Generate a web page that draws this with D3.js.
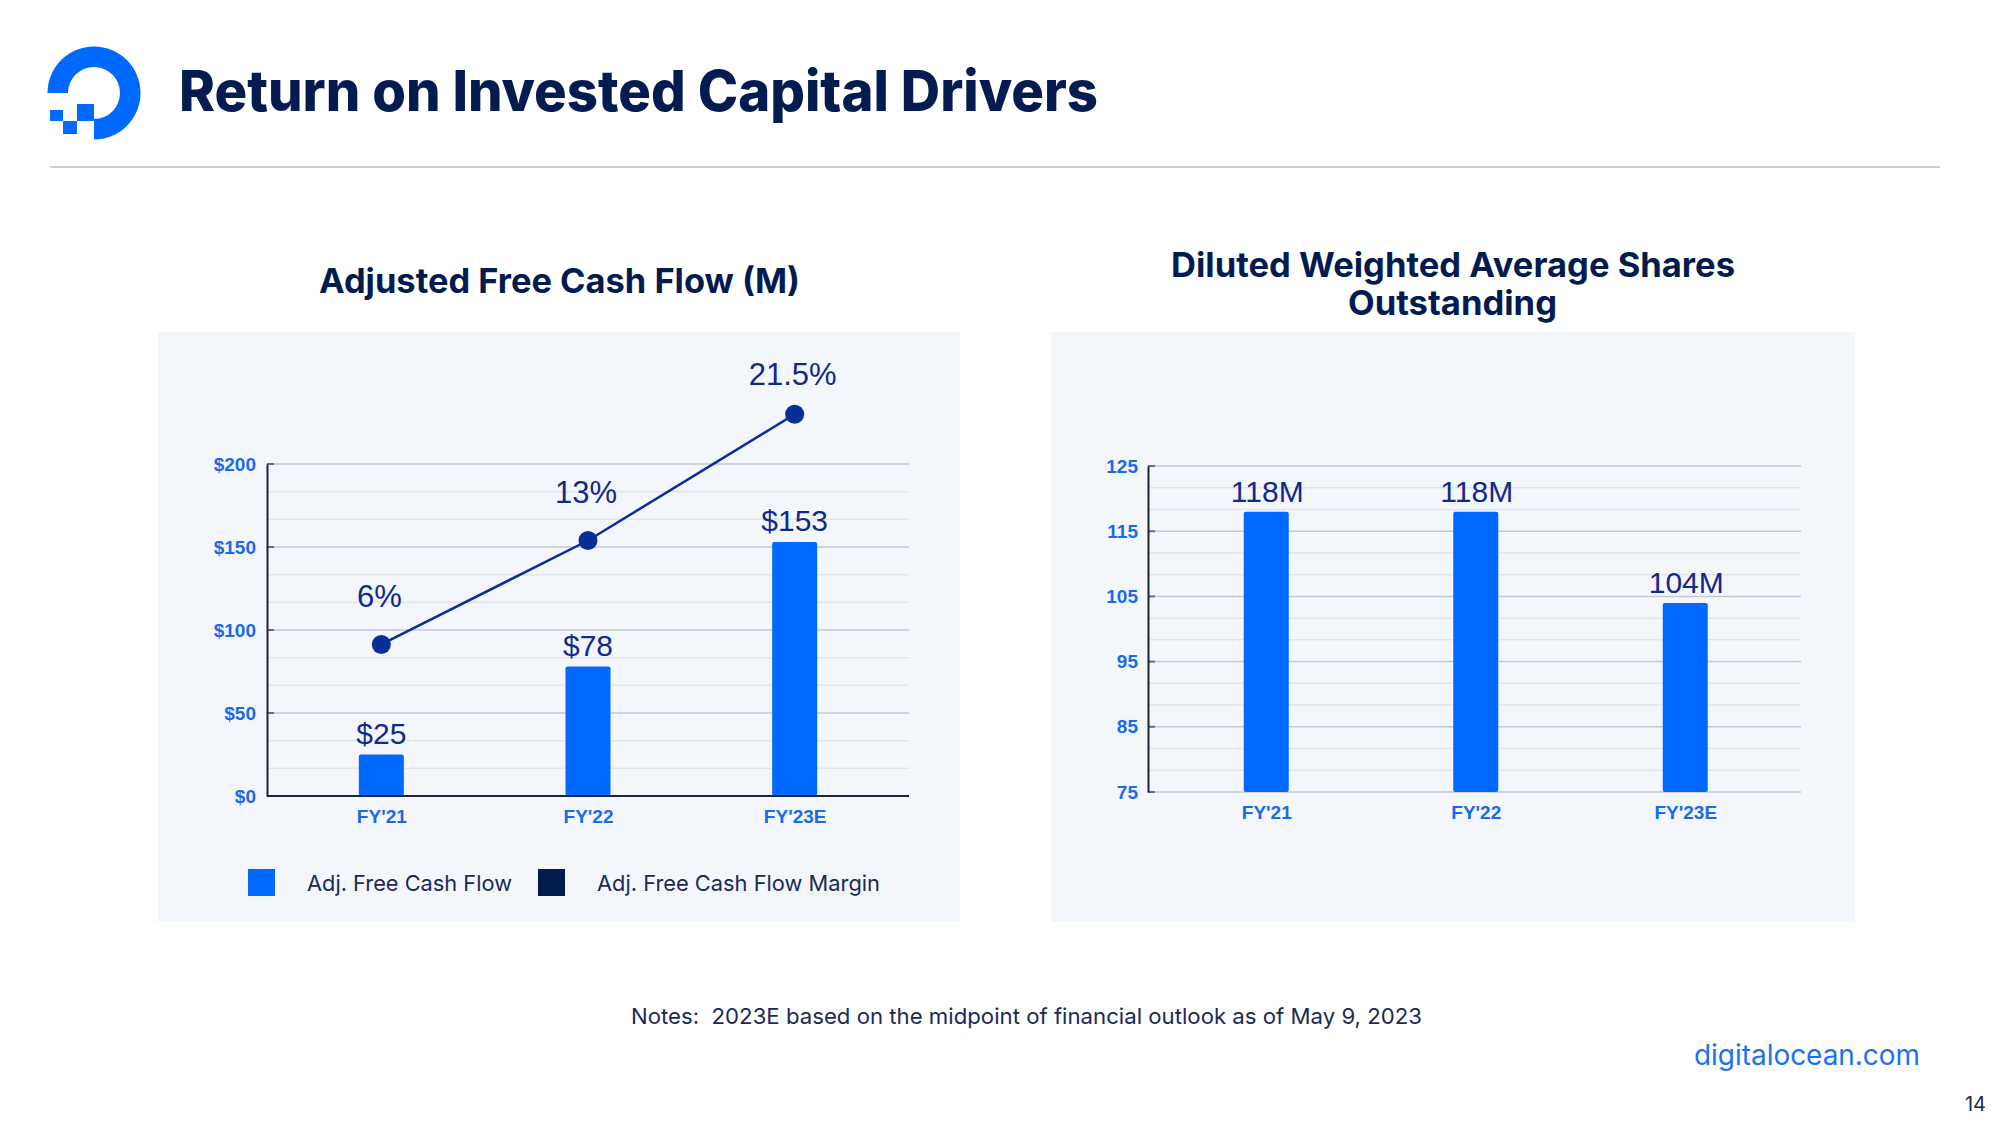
<!DOCTYPE html>
<html>
<head>
<meta charset="utf-8">
<script src="https://cdn.jsdelivr.net/npm/d3@7"></script>
<style>
  html, body { margin: 0; padding: 0; background: #ffffff; }
  svg { display: block; }
</style>
</head>
<body>
<script>
// ---------- DATA ----------
const categories = ["FY'21", "FY'22", "FY'23E"];
const fcfValues = [25, 78, 153];
const fcfLabels = ["$25", "$78", "$153"];
const marginValues = [6, 13, 21.5];
const marginLabels = ["6%", "13%", "21.5%"];
const fcfTicks = [0, 50, 100, 150, 200];
const sharesValues = [118, 118, 104];
const sharesLabels = ["118M", "118M", "104M"];
const sharesTicks = [75, 85, 95, 105, 115, 125];
const legendItems = ["Adj. Free Cash Flow", "Adj. Free Cash Flow Margin"];

// ---------- STYLE ----------
const BLUE = "#0069ff";
const NAVY = "#031b4e";
const LINE = "#0b2d96";
const LABEL = "#12298a";
const TICK = "#1a6ae8";
const GRID_MAJOR = "#c3c9d2";
const GRID_MINOR = "#e1e6ed";
const PANEL = "#f3f7fc";

const W = 2000, H = 1125;
const svg = d3.select("body").append("svg").attr("width", W).attr("height", H);

function fit(sel, width) {
  sel.attr("textLength", width).attr("lengthAdjust", "spacingAndGlyphs");
  return sel;
}

// ---------- HEADER ----------
const logo = svg.append("g").attr("transform", "translate(94,93)");
logo.append("path")
  .attr("d", d3.arc()({innerRadius: 26, outerRadius: 46.5, startAngle: -Math.PI / 2, endAngle: Math.PI}))
  .attr("fill", BLUE);
logo.append("rect").attr("x", -17).attr("y", 11).attr("width", 17).attr("height", 17).attr("fill", BLUE);
logo.append("rect").attr("x", -31).attr("y", 28).attr("width", 14).attr("height", 13).attr("fill", BLUE);
logo.append("rect").attr("x", -44).attr("y", 17).attr("width", 13).attr("height", 11).attr("fill", BLUE);

fit(svg.append("text").attr("x", 179).attr("y", 111)
  .attr("font-family", "Inter, sans-serif").attr("font-weight", 800)
  .attr("font-size", 56).attr("fill", NAVY)
  .text("Return on Invested Capital Drivers"), 919);

svg.append("line").attr("x1", 50).attr("x2", 1940).attr("y1", 167).attr("y2", 167)
  .attr("stroke", "#cccccc").attr("stroke-width", 2);

// ---------- PANELS ----------
svg.append("rect").attr("x", 158).attr("y", 332).attr("width", 802).attr("height", 590).attr("fill", PANEL);
svg.append("rect").attr("x", 1051).attr("y", 332).attr("width", 804).attr("height", 590).attr("fill", PANEL);

// subtitles
fit(svg.append("text").attr("x", 319).attr("y", 293)
  .attr("font-family", "Inter, sans-serif").attr("font-weight", 700)
  .attr("font-size", 34).attr("fill", NAVY).text("Adjusted Free Cash Flow (M)"), 481);
fit(svg.append("text").attr("x", 1171).attr("y", 277)
  .attr("font-family", "Inter, sans-serif").attr("font-weight", 700)
  .attr("font-size", 34).attr("fill", NAVY).text("Diluted Weighted Average Shares"), 564);
fit(svg.append("text").attr("x", 1348).attr("y", 315)
  .attr("font-family", "Inter, sans-serif").attr("font-weight", 700)
  .attr("font-size", 34).attr("fill", NAVY).text("Outstanding"), 209);

// ---------- helper for grid ----------
function drawGrid(g, y, ticks, x0, x1, sub) {
  const step = ticks[1] - ticks[0];
  const minor = [];
  for (let i = 0; i < ticks.length - 1; i++) {
    for (let k = 1; k < sub; k++) minor.push(ticks[i] + step * k / sub);
  }
  g.selectAll(".minor").data(minor).join("line")
    .attr("x1", x0).attr("x2", x1).attr("y1", d => y(d)).attr("y2", d => y(d))
    .attr("stroke", GRID_MINOR).attr("stroke-width", 1.5);
  g.selectAll(".major").data(ticks).join("line")
    .attr("x1", x0).attr("x2", x1).attr("y1", d => y(d)).attr("y2", d => y(d))
    .attr("stroke", GRID_MAJOR).attr("stroke-width", 1.5);
  g.selectAll(".tk").data(ticks).join("line")
    .attr("x1", x0).attr("x2", x0 + 7).attr("y1", d => y(d)).attr("y2", d => y(d))
    .attr("stroke", "#5a6f9a").attr("stroke-width", 2);
}

// ---------- LEFT CHART ----------
const L = {x0: 267, x1: 909, top: 464, bottom: 796};
const xL = d3.scalePoint().domain(categories).range([278, 898]).padding(0.5);
const yL = d3.scaleLinear().domain([0, 200]).range([L.bottom, L.top]);
const yM = d3.scaleLinear().domain([-4.2, 18.15]).range([L.bottom, L.top]);

const gL = svg.append("g");
drawGrid(gL, yL, fcfTicks, L.x0, L.x1, 3);

const axL = gL.append("g").attr("transform", `translate(${L.x0},0)`)
  .call(d3.axisLeft(yL).tickValues(fcfTicks).tickSize(0).tickPadding(11).tickFormat(d => "$" + d));
axL.select(".domain").attr("stroke", "#1b2436").attr("stroke-width", 2);
axL.selectAll("text").attr("font-family", "'Liberation Sans', Arial, sans-serif")
  .attr("font-weight", 700).attr("font-size", 19).attr("fill", TICK);

gL.selectAll(".bar").data(fcfValues).join("rect")
  .attr("x", (d, i) => xL(categories[i]) - 22.5).attr("width", 45)
  .attr("y", d => yL(d)).attr("height", d => yL(0) - yL(d))
  .attr("rx", 2).attr("fill", BLUE);

const axLB = gL.append("g").attr("transform", `translate(0,${L.bottom})`)
  .call(d3.axisBottom(xL).tickSize(0).tickPadding(10));
axLB.select(".domain").attr("d", `M${L.x0},0H${L.x1}`).attr("stroke", "#1b2436").attr("stroke-width", 2);
axLB.selectAll("text").attr("font-family", "'Liberation Sans', Arial, sans-serif")
  .attr("font-weight", 700).attr("font-size", 19).attr("fill", TICK).attr("dy", "0.9em");

gL.selectAll(".vl").data(fcfValues).join("text")
  .attr("x", (d, i) => xL(categories[i])).attr("y", d => yL(d) - 11)
  .attr("text-anchor", "middle").attr("font-family", "'Liberation Sans', Arial, sans-serif")
  .attr("font-size", 30).attr("fill", LABEL).text((d, i) => fcfLabels[i]);

const line = d3.line().x((d, i) => xL(categories[i])).y(d => yM(d));
gL.append("path").datum(marginValues).attr("d", line)
  .attr("fill", "none").attr("stroke", LINE).attr("stroke-width", 2.5);
gL.selectAll(".dot").data(marginValues).join("circle")
  .attr("cx", (d, i) => xL(categories[i])).attr("cy", d => yM(d)).attr("r", 9.5).attr("fill", LINE);
const mOff = [37, 38, 29];
gL.selectAll(".ml").data(marginValues).join("text")
  .attr("x", (d, i) => xL(categories[i]) - 2).attr("y", (d, i) => yM(d) - mOff[i])
  .attr("text-anchor", "middle").attr("font-family", "'Liberation Sans', Arial, sans-serif")
  .attr("font-size", 31).attr("fill", LABEL).text((d, i) => marginLabels[i]);

// legend
const legX = [248, 538], legTX = [307, 597], legW = [205, 283];
const legColors = [BLUE, NAVY];
legendItems.forEach((t, i) => {
  svg.append("rect").attr("x", legX[i]).attr("y", 869).attr("width", 27).attr("height", 27).attr("fill", legColors[i]);
  fit(svg.append("text").attr("x", legTX[i]).attr("y", 891)
    .attr("font-family", "Inter, sans-serif").attr("font-size", 22).attr("fill", "#1b2a55").text(t), legW[i]);
});

// ---------- RIGHT CHART ----------
const R = {x0: 1148, x1: 1801, top: 466, bottom: 792};
const xR = d3.scalePoint().domain(categories).range([1161.5, 1790]).padding(0.5);
const yR = d3.scaleLinear().domain([75, 125]).range([R.bottom, R.top]);

const gR = svg.append("g");
drawGrid(gR, yR, sharesTicks, R.x0, R.x1, 3);

const axR = gR.append("g").attr("transform", `translate(${R.x0},0)`)
  .call(d3.axisLeft(yR).tickValues(sharesTicks).tickSize(0).tickPadding(10));
axR.select(".domain").attr("stroke", "#1b2436").attr("stroke-width", 2);
axR.selectAll("text").attr("font-family", "'Liberation Sans', Arial, sans-serif")
  .attr("font-weight", 700).attr("font-size", 19).attr("fill", TICK);

gR.selectAll(".bar").data(sharesValues).join("rect")
  .attr("x", (d, i) => xR(categories[i]) - 22.5).attr("width", 45)
  .attr("y", d => yR(d)).attr("height", d => yR(75) - yR(d))
  .attr("rx", 2).attr("fill", BLUE);

const axRB = gR.append("g").attr("transform", `translate(0,${R.bottom})`)
  .call(d3.axisBottom(xR).tickSize(0).tickPadding(10));
axRB.select(".domain").remove();
axRB.selectAll("text").attr("font-family", "'Liberation Sans', Arial, sans-serif")
  .attr("font-weight", 700).attr("font-size", 19).attr("fill", TICK).attr("dy", "0.9em");

gR.selectAll(".vl").data(sharesValues).join("text")
  .attr("x", (d, i) => xR(categories[i]) + 1).attr("y", d => yR(d) - 10)
  .attr("text-anchor", "middle").attr("font-family", "'Liberation Sans', Arial, sans-serif")
  .attr("font-size", 30).attr("fill", LABEL).text((d, i) => sharesLabels[i]);

// ---------- FOOTER ----------
fit(svg.append("text").attr("x", 631).attr("y", 1024)
  .attr("font-family", "Inter, sans-serif").attr("font-size", 22).attr("fill", "#1b2a55")
  .attr("xml:space", "preserve")
  .text("Notes:  2023E based on the midpoint of financial outlook as of May 9, 2023"), 791);
fit(svg.append("text").attr("x", 1694).attr("y", 1065)
  .attr("font-family", "Inter, sans-serif").attr("font-size", 28).attr("fill", "#1a72ee")
  .text("digitalocean.com"), 226);
svg.append("text").attr("x", 1986).attr("y", 1111).attr("text-anchor", "end")
  .attr("font-family", "Inter, sans-serif").attr("font-size", 20).attr("fill", "#1b2a55").text("14");
</script>
</body>
</html>
